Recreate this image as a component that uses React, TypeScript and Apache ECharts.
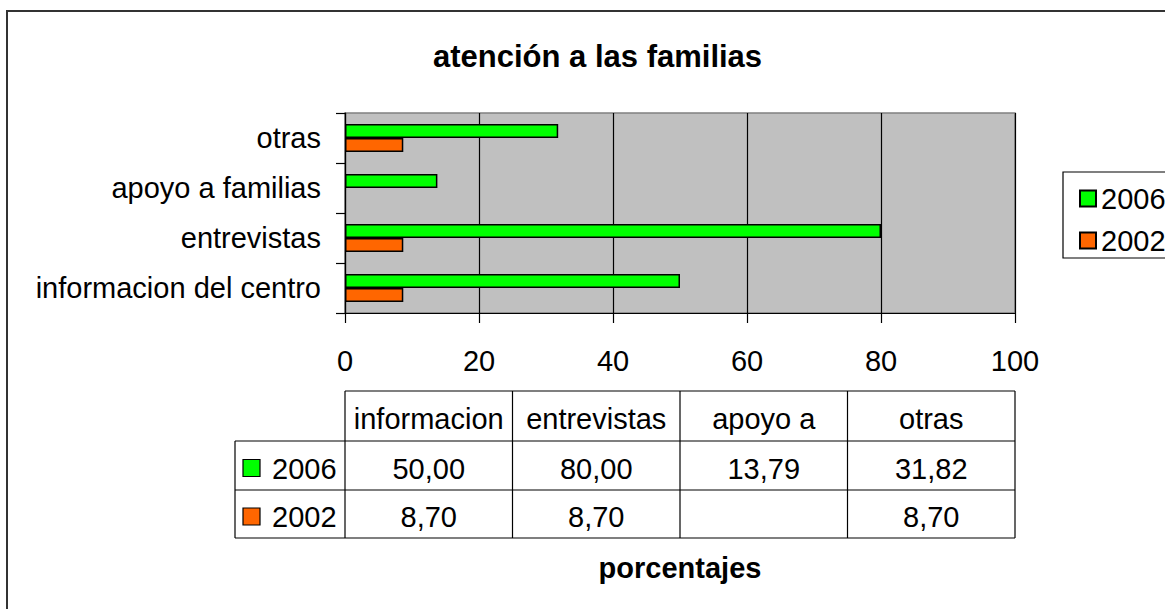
import React, { useEffect, useRef } from "react";
import * as echarts from "echarts";

const categories = ["informacion del centro", "entrevistas", "apoyo a familias", "otras"];
const tableHeaders = ["informacion", "entrevistas", "apoyo a", "otras"];
const seriesNames = ["2006", "2002"];
const values2006: (number | null)[] = [50.0, 80.0, 13.79, 31.82];
const values2002: (number | null)[] = [8.7, 8.7, null, 8.7];
const xTicks = [0, 20, 40, 60, 80, 100];

const GREEN = "#00FF00";
const ORANGE = "#FF6600";
const FONT = "'Liberation Sans', Arial, sans-serif";
const FS = 29;

const fmt = (v: number | null) => (v == null ? "" : v.toFixed(2).replace(".", ","));

export default function App() {
  const ref = useRef<HTMLDivElement>(null);
  useEffect(() => {
    if (!ref.current) return;
    const chart = echarts.init(ref.current, null, { renderer: "svg" });

    const gridLeft = 345;
    const gridTop = 113;
    const gridW = 670;
    const gridH = 200;
    const colW = gridW / tableHeaders.length;
    const rowHeadLeft = 235;
    const tTop = 391;
    const r1 = 441;
    const r2 = 490;
    const tBottom = 538;
    const textShift = 3;

    const g: any[] = [];
    g.push({
      type: "rect",
      shape: { x: 7, y: 11, width: 1200, height: 700 },
      style: { fill: "none", stroke: "#333", lineWidth: 2 },
      silent: true,
      z: -10,
    });
    g.push({
      type: "rect",
      shape: { x: 1063, y: 172, width: 200, height: 86 },
      style: { fill: "#fff", stroke: "#000", lineWidth: 1.2 },
      z: 0,
    });
    const line = (x1: number, y1: number, x2: number, y2: number) =>
      g.push({
        type: "line",
        shape: { x1, y1, x2, y2 },
        style: { stroke: "#000", lineWidth: 1.2 },
        silent: true,
      });
    line(gridLeft, tTop, gridLeft + gridW, tTop);
    [r1, r2, tBottom].forEach((y) => line(rowHeadLeft, y, gridLeft + gridW, y));
    line(rowHeadLeft, r1, rowHeadLeft, tBottom);
    for (let i = 0; i <= tableHeaders.length; i++) {
      const x = gridLeft + i * colW;
      line(x, tTop, x, tBottom);
    }
    const txt = (s: string, x: number, y: number, align: string) =>
      g.push({
        type: "text",
        x,
        y,
        style: {
          text: s,
          fontSize: FS,
          fontFamily: FONT,
          fill: "#000",
          align,
          verticalAlign: "middle",
        },
        silent: true,
      });
    tableHeaders.forEach((h, i) =>
      txt(h, gridLeft + (i + 0.5) * colW, (tTop + r1) / 2 + textShift, "center")
    );
    const rows = [
      { name: seriesNames[0], color: GREEN, vals: values2006, y: (r1 + r2) / 2 + textShift },
      { name: seriesNames[1], color: ORANGE, vals: values2002, y: (r2 + tBottom) / 2 + textShift },
    ];
    rows.forEach((r) => {
      g.push({
        type: "rect",
        shape: { x: 243, y: r.y - 9, width: 17, height: 17 },
        style: { fill: r.color, stroke: "#000", lineWidth: 1.2 },
        silent: true,
      });
      txt(r.name, 272, r.y, "left");
      r.vals.forEach((v, i) => txt(fmt(v), gridLeft + (i + 0.5) * colW, r.y, "center"));
    });

    chart.setOption({
      animation: false,
      backgroundColor: "#fff",
      title: {
        text: "atención a las familias",
        left: 428,
        top: 36,
        textStyle: { fontSize: 31, fontWeight: "bold", fontFamily: FONT, color: "#000" },
      },
      legend: {
        data: seriesNames,
        orient: "vertical",
        left: 1074,
        top: 179,
        itemWidth: 16,
        itemHeight: 16,
        itemGap: 13,
        icon: "rect",
        z: 5,
        textStyle: { fontSize: FS, fontFamily: FONT, color: "#000" },
      },
      grid: {
        left: gridLeft,
        top: gridTop,
        width: gridW,
        height: gridH,
        show: true,
        backgroundColor: "#C0C0C0",
        borderColor: "#808080",
        borderWidth: 1.5,
      },
      xAxis: {
        type: "value",
        min: 0,
        max: 100,
        interval: 20,
        name: "porcentajes",
        nameLocation: "middle",
        nameGap: 240,
        nameTextStyle: { fontSize: FS, fontWeight: "bold", fontFamily: FONT, color: "#000" },
        axisLine: { show: true, lineStyle: { color: "#000", width: 1.2 } },
        axisTick: { show: true, length: 10, lineStyle: { color: "#000", width: 1.2 } },
        axisLabel: {
          fontSize: FS,
          fontFamily: FONT,
          color: "#000",
          margin: 33,
          formatter: (v: number) => (xTicks.includes(v) ? String(v) : ""),
        },
        splitLine: { show: true, lineStyle: { color: "#000", width: 1.2 } },
      },
      yAxis: {
        type: "category",
        data: categories,
        axisLine: { show: true, lineStyle: { color: "#000", width: 1.2 } },
        axisTick: { show: true, length: 9, lineStyle: { color: "#000", width: 1.2 } },
        axisLabel: { fontSize: FS, fontFamily: FONT, color: "#000", margin: 24 },
      },
      series: [
        {
          name: seriesNames[0],
          type: "bar",
          data: values2006,
          barGap: "0%",
          barCategoryGap: "44%",
          itemStyle: { color: GREEN, borderColor: "#000", borderWidth: 1.5 },
        },
        {
          name: seriesNames[1],
          type: "bar",
          data: values2002,
          barGap: "0%",
          barCategoryGap: "44%",
          itemStyle: { color: ORANGE, borderColor: "#000", borderWidth: 1.5 },
        },
      ],
      graphic: g,
    });
    return () => chart.dispose();
  }, []);
  return (
    <div
      ref={ref}
      style={{ position: "fixed", left: 0, top: 0, width: 1165, height: 609 }}
    />
  );
}
